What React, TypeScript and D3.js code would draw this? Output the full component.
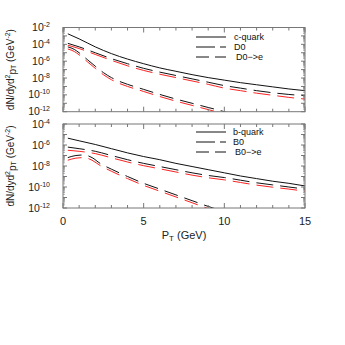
import React from "react";
import * as d3 from "d3";

// Values are log10 of dN/dyd²pT
const cQuarkPt = [0.3, 1, 2, 3, 4, 5, 6, 7, 8, 9, 10, 11, 12, 13, 14, 15];
const cQuarkLog10 = [-2.75, -3.35, -4.3, -5.1, -5.75, -6.3, -6.8, -7.2, -7.6, -7.95, -8.25, -8.55, -8.8, -9.05, -9.3, -9.5];
const d0Pt = [0.3, 1, 2, 3, 4, 5, 6, 7, 8, 9, 10, 11, 12, 13, 14, 15];
const d0Log10 = [-3.88, -4.3, -5.0, -5.7, -6.3, -6.85, -7.3, -7.7, -8.1, -8.5, -8.9, -9.2, -9.5, -9.75, -9.95, -10.1];
const d0RedLog10 = [-4.1, -4.5, -5.2, -5.9, -6.55, -7.1, -7.55, -7.95, -8.35, -8.75, -9.2, -9.5, -9.8, -10.05, -10.3, -10.5];
const d0ePt = [0.3, 0.7, 1, 1.5, 2, 2.5, 3, 3.5, 4, 5, 6, 7, 8, 9, 10, 10.5];
const d0eLog10 = [-4.3, -4.6, -5.0, -5.8, -6.6, -7.35, -7.95, -8.4, -8.75, -9.35, -9.95, -10.5, -11.0, -11.5, -12.0, -12.3];
const d0eRedLog10 = [-4.55, -4.85, -5.25, -6.05, -6.85, -7.6, -8.2, -8.65, -9.0, -9.6, -10.2, -10.75, -11.25, -11.75, -12.25, -12.5];

const bQuarkPt = [0.3, 1, 2, 3, 4, 5, 6, 7, 8, 9, 10, 11, 12, 13, 14, 15];
const bQuarkLog10 = [-5.35, -5.6, -5.95, -6.35, -6.75, -7.1, -7.4, -7.75, -8.05, -8.35, -8.65, -8.95, -9.2, -9.45, -9.65, -9.9];
const b0Pt = [0.3, 1, 2, 3, 4, 5, 6, 7, 8, 9, 10, 11, 12, 13, 14, 15];
const b0Log10 = [-6.2, -6.35, -6.6, -7.0, -7.4, -7.75, -8.05, -8.35, -8.65, -8.9, -9.1, -9.35, -9.6, -9.8, -10.0, -10.2];
const b0RedLog10 = [-6.5, -6.6, -6.82, -7.22, -7.62, -7.97, -8.27, -8.57, -8.87, -9.12, -9.32, -9.57, -9.82, -10.02, -10.2, -10.4];
const b0ePt = [0.3, 0.8, 1.3, 1.8, 2.3, 3, 4, 5, 6, 7, 8, 9, 9.5, 10];
const b0eLog10 = [-7.2, -7.0, -6.95, -7.2, -7.75, -8.3, -9.0, -9.65, -10.2, -10.75, -11.3, -11.85, -12.1, -12.4];
const b0eRedLog10 = [-7.45, -7.25, -7.2, -7.45, -7.95, -8.5, -9.2, -9.85, -10.4, -10.95, -11.5, -12.05, -12.3, -12.6];

const xTickLabels = [0, 5, 10, 15];
const topYTicks = [-2, -4, -6, -8, -10, -12];
const bottomYTicks = [-4, -6, -8, -10, -12];

const X0 = 63, X1 = 305;
const FONT = "'Liberation Sans', Arial, sans-serif";
const AXIS = "#777";

const x = d3.scaleLinear().domain([0, 15]).range([X0, X1]);

type Series = { pt: number[]; v: number[]; color: string; dash?: string };

function Panel({ top, bottom, yMax, ticks, series, legend, legendY, clipId }: {
  top: number; bottom: number; yMax: number; ticks: number[];
  series: Series[]; legend: { label: string; dash?: string; tx: number }[]; legendY: number[]; clipId: string;
}) {
  const y = d3.scaleLinear().domain([-12, yMax]).range([bottom, top]);
  const line = d3.line<[number, number]>().x(d => x(d[0])).y(d => y(d[1])).curve(d3.curveMonotoneX);
  const minor: number[] = [];
  const major: number[] = [];
  for (let e = -12; e < yMax; e++) {
    major.push(e);
    for (let k = 2; k <= 9; k++) minor.push(e + Math.log10(k));
  }
  major.push(yMax);
  const xt = d3.range(0, 16);
  return (
    <g>
      <defs>
        <clipPath id={clipId}><rect x={X0} y={top} width={X1 - X0} height={bottom - top} /></clipPath>
      </defs>
      <g clipPath={`url(#${clipId})`}>
        {series.map((s, i) => (
          <path key={i} d={line(s.pt.map((p, j) => [p, s.v[j]] as [number, number])) || ""}
            fill="none" stroke={s.color} strokeWidth={1} strokeDasharray={s.dash} />
        ))}
      </g>
      <rect x={X0} y={top} width={X1 - X0} height={bottom - top} fill="none" stroke={AXIS} strokeWidth={1} />
      {major.map(e => (
        <g key={"M" + e}>
          <line x1={X0} x2={X0 + 4} y1={y(e)} y2={y(e)} stroke={AXIS} />
          <line x1={X1} x2={X1 - 4} y1={y(e)} y2={y(e)} stroke={AXIS} />
        </g>
      ))}
      {minor.map((e, i) => (
        <g key={"m" + i}>
          <line x1={X0} x2={X0 + 2} y1={y(e)} y2={y(e)} stroke={AXIS} strokeWidth={0.6} />
          <line x1={X1} x2={X1 - 2} y1={y(e)} y2={y(e)} stroke={AXIS} strokeWidth={0.6} />
        </g>
      ))}
      {xt.map(t => {
        const len = t % 5 === 0 ? 5 : 3;
        return (
          <g key={"x" + t}>
            <line x1={x(t)} x2={x(t)} y1={top} y2={top + len} stroke={AXIS} />
            <line x1={x(t)} x2={x(t)} y1={bottom} y2={bottom - len} stroke={AXIS} />
          </g>
        );
      })}
      {ticks.map(e => (
        <text key={"t" + e} x={50} y={y(e) + 3.5} textAnchor="end" fontFamily={FONT} fontSize={10.5} fill="#222">
          10<tspan fontSize={7} dy={-4}>{e}</tspan>
        </text>
      ))}
      {legend.map((l, i) => (
        <g key={"l" + i}>
          <line x1={196} x2={226} y1={top + legendY[i]} y2={top + legendY[i]} stroke="#111" strokeDasharray={l.dash} />
          <text x={l.tx} y={top + legendY[i] + 3.2} fontFamily={FONT} fontSize={9} fill="#111">{l.label}</text>
        </g>
      ))}
      <text transform={`translate(14,${(top + bottom) / 2}) rotate(-90)`} textAnchor="middle" fontFamily={FONT} fontSize={10} fill="#222">
        dN/dyd<tspan fontSize={7} dy={-4}>2</tspan><tspan dy={6}>p</tspan><tspan fontSize={7} dy={0}>T</tspan><tspan dy={-2}> (GeV</tspan><tspan fontSize={7} dy={-4}>-2</tspan><tspan dy={4}>)</tspan>
      </text>
    </g>
  );
}

export default function App() {
  const d1 = "17,7";
  const d2 = "14,7";
  return (
    <svg width={345} height={345} style={{ position: "absolute", left: 0, top: 0, background: "#fff" }}>
      <Panel top={27.5} bottom={111.7} yMax={-2} ticks={topYTicks} clipId="c1" legendY={[9.5, 19.5, 29.5]}
        series={[
          { pt: cQuarkPt, v: cQuarkLog10, color: "#111" },
          { pt: d0Pt, v: d0RedLog10, color: "#f22", dash: d1 },
          { pt: d0Pt, v: d0Log10, color: "#111", dash: d1 },
          { pt: d0ePt, v: d0eRedLog10, color: "#f22", dash: d2 },
          { pt: d0ePt, v: d0eLog10, color: "#111", dash: d2 },
        ]}
        legend={[{ label: "c-quark", tx: 234 }, { label: "D0", dash: "19,5", tx: 234 }, { label: "D0\u2212>e", dash: "13,6", tx: 236 }]} />
      <Panel top={124} bottom={208} yMax={-4} ticks={bottomYTicks} clipId="c2" legendY={[8, 18, 28]}
        series={[
          { pt: bQuarkPt, v: bQuarkLog10, color: "#111" },
          { pt: b0Pt, v: b0RedLog10, color: "#f22", dash: d1 },
          { pt: b0Pt, v: b0Log10, color: "#111", dash: d1 },
          { pt: b0ePt, v: b0eRedLog10, color: "#f22", dash: d2 },
          { pt: b0ePt, v: b0eLog10, color: "#111", dash: d2 },
        ]}
        legend={[{ label: "b-quark", tx: 233 }, { label: "B0", dash: "19,5", tx: 233 }, { label: "B0\u2212>e", dash: "13,6", tx: 235 }]} />
      {xTickLabels.map(t => (
        <text key={t} x={x(t)} y={225} textAnchor="middle" fontFamily={FONT} fontSize={11} fill="#222">{t}</text>
      ))}
      <text x={184} y={239} textAnchor="middle" fontFamily={FONT} fontSize={11} fill="#222">
        P<tspan fontSize={8} dy={2}>T</tspan><tspan dy={-2}> (GeV)</tspan>
      </text>
    </svg>
  );
}
